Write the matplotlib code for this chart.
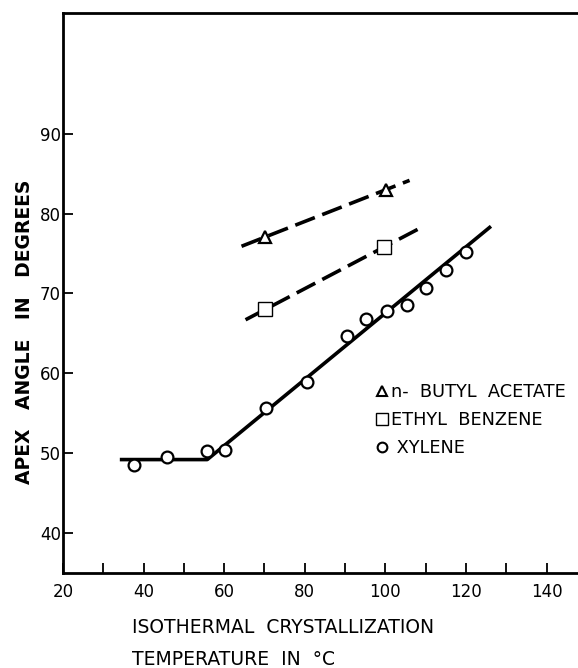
import matplotlib.pyplot as plt
from matplotlib.lines import Line2D

# xylene: measured points and the fitted broken line
xylene_t = [37.7, 45.9, 55.8, 60.3, 70.4, 80.5, 90.4, 95.3, 100.4, 105.4, 110.0, 115.0, 120.0]
xylene_a = [48.5, 49.5, 50.3, 50.4, 55.6, 58.9, 64.7, 66.8, 67.8, 68.6, 70.7, 72.9, 75.2]
xylene_fit_t = [34.1, 55.8, 126.2]
xylene_fit_a = [49.2, 49.2, 78.4]

# ethyl benzene
ebenz_t = [70.2, 99.7]
ebenz_a = [68.0, 75.8]
ebenz_fit_t = [65.3, 108.7]
ebenz_fit_a = [66.7, 78.2]

# n-butyl acetate
butyl_t = [70.2, 100.1]
butyl_a = [77.1, 83.0]
butyl_fit_t = [64.3, 106.0]
butyl_fit_a = [75.9, 84.15]

xticks = [20, 40, 60, 80, 100, 120, 140]
yticks = [40, 50, 60, 70, 80, 90]

plt.rcParams['font.family'] = ['DejaVu Sans']

fig = plt.figure(figsize=(5.78, 6.68), dpi=100)
ax = fig.add_axes([0.109, 0.1422, 0.891, 0.8383])

ax.plot(xylene_fit_t, xylene_fit_a, color='black', lw=2.6, solid_capstyle='butt')
ax.plot(ebenz_fit_t, ebenz_fit_a, color='black', lw=2.6, dashes=(5.8, 2.2))
ax.plot(butyl_fit_t, butyl_fit_a, color='black', lw=2.6, dashes=(5.8, 2.2))

ax.plot(xylene_t, xylene_a, 'o', ms=8.5, mfc='white', mec='black', mew=1.6)
ax.plot(ebenz_t, ebenz_a, 's', ms=9.5, mfc='white', mec='black', mew=1.0)
ax.plot(butyl_t, butyl_a, '^', ms=8, mfc='white', mec='black', mew=1.6)

ax.set_xlim(20, 147.8)
ax.set_ylim(35, 105.1)
ax.spines['right'].set_visible(False)
for s in ['left', 'bottom', 'top']:
    ax.spines[s].set_linewidth(2.0)

minor = list(range(20, 150, 10))
ax.set_xticks(minor)
ax.set_xticklabels([str(t) if t in xticks else '' for t in minor], fontsize=12)
ax.tick_params(axis='x', direction='in', length=7, width=1.3, pad=7)
ax.set_yticks(yticks)
ax.set_yticklabels([str(t) for t in yticks], fontsize=12)
ax.tick_params(axis='y', direction='in', length=7, width=1.3, pad=1.5)

fig.text(0.043, 0.503, 'APEX   ANGLE   IN   DEGREES', rotation=90, ha='center', va='center',
         fontsize=13.5, fontweight='semibold')
fig.text(0.228, 0.061, 'ISOTHERMAL  CRYSTALLIZATION', ha='left', va='center', fontsize=13.5)
fig.text(0.228, 0.012, 'TEMPERATURE  IN  °C', ha='left', va='center', fontsize=13.5)

handles = [
    Line2D([], [], ls='none', marker='^', ms=7, mfc='white', mec='black', mew=1.5),
    Line2D([], [], ls='none', marker='s', ms=9, mfc='white', mec='black', mew=1.0),
    Line2D([], [], ls='none', marker='o', ms=7, mfc='white', mec='black', mew=1.5),
]
labels = ['n-  BUTYL  ACETATE', 'ETHYL  BENZENE', ' XYLENE']
ax.legend(handles, labels, loc='upper left', bbox_to_anchor=(0.608, 0.339), frameon=False,
          fontsize=12.8, handlelength=0.7, handletextpad=0.15, labelspacing=0.55,
          borderaxespad=0, borderpad=0)

fig.savefig('out.png', dpi=100)
